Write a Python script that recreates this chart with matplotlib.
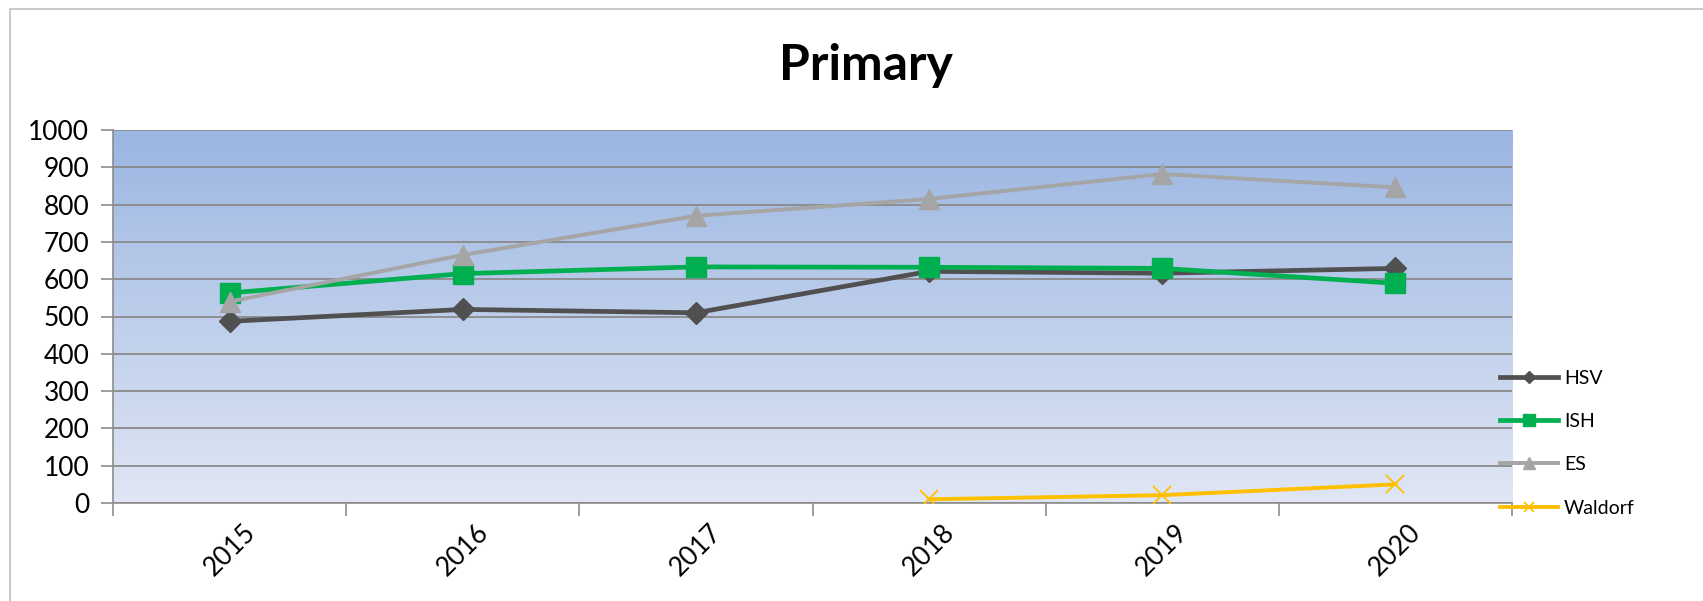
import numpy as np
import matplotlib
import matplotlib.pyplot as plt
from matplotlib.patches import Rectangle

matplotlib.use('Agg')

years = ['2015', '2016', '2017', '2018', '2019', '2020']
hsv = [487, 519, 510, 621, 616, 629]
ish = [563, 615, 633, 632, 629, 589]
es = [540, 665, 770, 815, 882, 846]
waldorf_years = ['2018', '2019', '2020']
waldorf = [10, 21, 50]

plt.rcParams['font.family'] = ['Lato', 'DejaVu Sans']

fig = plt.figure(figsize=(17.03, 6.01), dpi=100)
ax = fig.add_axes([113 / 1703, 1 - 503 / 601, (1512 - 113) / 1703, (503 - 130) / 601])

# gradient background like the excel plot area
top = np.array([155, 182, 226]) / 255
bot = np.array([224, 230, 244]) / 255
t = np.linspace(0, 1, 256)[:, None]
grad = (top * (1 - t) + bot * t)[:, None, :]
ax.imshow(grad, extent=[0, 1, 0, 1], transform=ax.transAxes, aspect='auto', zorder=0)

x = np.arange(len(years))
xw = [years.index(y) for y in waldorf_years]

ax.plot(x, hsv, color='#505050', lw=3.4, marker='D', ms=11, label='HSV', zorder=3)
ax.plot(x, ish, color='#00B050', lw=3.4, marker='s', ms=14, label='ISH', zorder=4)
ax.plot(x, es, color='#A5A5A5', lw=2.8, marker='^', ms=14, label='ES', zorder=5)
ax.plot(xw, waldorf, color='#FFC000', lw=2.8, marker='x', ms=13, mew=1.3, label='Waldorf', zorder=6)

ax.set_xlim(-0.5, len(years) - 0.5)
ax.set_ylim(0, 1000)
ax.set_yticks(range(0, 1001, 100))
ax.set_xticks(x)
ax.set_xticklabels(years, rotation=45, fontsize=19)
ax.set_xticks(np.arange(-0.5, len(years), 1), minor=True)
ax.tick_params(axis='x', which='major', length=0, pad=12)
ax.tick_params(axis='x', which='minor', length=9, color='#8c8c8c', width=1.2)
ax.tick_params(axis='y', labelsize=19, length=9, color='#8c8c8c', width=1.2, pad=8)
ax.grid(axis='y', color='#8a8a8a', lw=1.3, zorder=1)
ax.set_axisbelow(True)
for s in ['top', 'right']:
    ax.spines[s].set_visible(False)
for s in ['left', 'bottom']:
    ax.spines[s].set_color('#8c8c8c')
    ax.spines[s].set_linewidth(1.2)

fig.text(866 / 1703, 1 - 80 / 601, 'Primary', ha='center', va='baseline',
         fontsize=36, fontweight='bold')

leg = ax.legend(loc='upper left', bbox_to_anchor=(1492 / 1703, 1 - 362 / 601),
                bbox_transform=fig.transFigure, frameon=False, fontsize=14,
                markerscale=0.6, handlelength=3.0, labelspacing=1.35,
                handletextpad=0.3, borderaxespad=0)

# outer chart border
fig.patches.append(Rectangle((10 / 1703, -0.1), 1.2, 1.1 - 9 / 601, transform=fig.transFigure,
                             fill=False, edgecolor='#bfbfbf', lw=1.2))

fig.savefig('out.png', dpi=100)
